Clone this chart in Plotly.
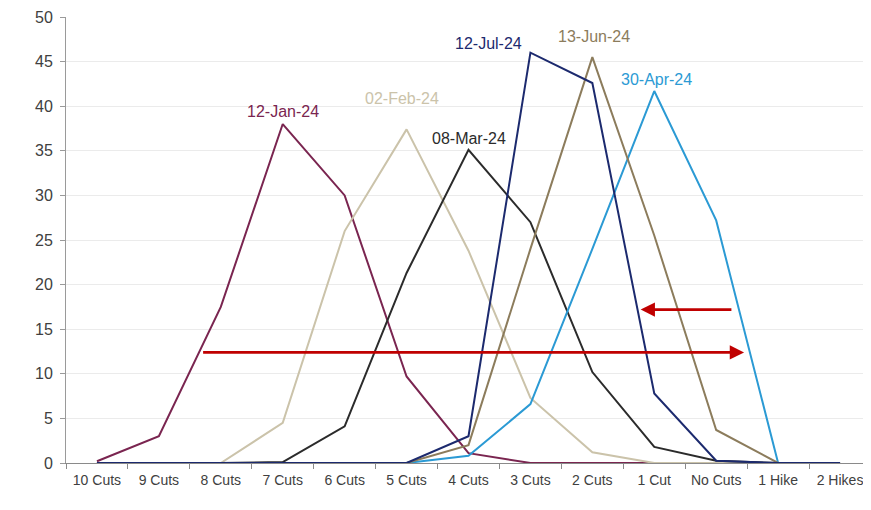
import plotly.graph_objects as go

categories = ["10 Cuts", "9 Cuts", "8 Cuts", "7 Cuts", "6 Cuts", "5 Cuts", "4 Cuts",
              "3 Cuts", "2 Cuts", "1 Cut", "No Cuts", "1 Hike", "2 Hikes"]

jan12 = [0.2, 3.0, 17.5, 38.0, 30.0, 9.7, 1.1, 0, 0, 0, 0, 0, 0]
feb02 = [0, 0, 0, 4.5, 26.0, 37.4, 23.8, 7.3, 1.2, 0, 0, 0, 0]
mar08 = [0, 0, 0, 0.1, 4.1, 21.3, 35.1, 27.0, 10.2, 1.8, 0.25, 0, 0]
apr30 = [0, 0, 0, 0, 0, 0, 0.8, 6.6, 24.0, 41.7, 27.2, 0, 0]
jun13 = [0, 0, 0, 0, 0, 0, 2.0, 24.0, 45.5, 25.5, 3.7, 0, 0]
jul12 = [0, 0, 0, 0, 0, 0, 3.0, 46.0, 42.6, 7.8, 0.25, 0, 0]

series = [
    ("12-Jan-24", jan12, "#7A2550"),
    ("02-Feb-24", feb02, "#CBC3AA"),
    ("08-Mar-24", mar08, "#2B2B2B"),
    ("30-Apr-24", apr30, "#2B9AD4"),
    ("13-Jun-24", jun13, "#8C7C5C"),
    ("12-Jul-24", jul12, "#1C2A6E"),
]

# label positions (category index, value)
label_pos = {
    "12-Jan-24": (3.0, 39.4),
    "02-Feb-24": (4.92, 40.9),
    "08-Mar-24": (6.0, 36.4),
    "12-Jul-24": (6.32, 47.0),
    "13-Jun-24": (8.02, 47.8),
    "30-Apr-24": (9.04, 43.0),
}

fig = go.Figure()
for name, vals, color in series:
    fig.add_trace(go.Scatter(x=categories, y=vals, mode="lines", name=name,
                             line=dict(color=color, width=2)))
    lx, ly = label_pos[name]
    fig.add_annotation(x=lx, y=ly, text=name, showarrow=False,
                       font=dict(color=color, size=16, family="Liberation Sans, Arial"))

# arrows
fig.add_annotation(x=10.45, y=12.4, ax=1.69, ay=12.4, xref="x", yref="y",
                   axref="x", ayref="y", text="", showarrow=True,
                   arrowhead=2, arrowsize=1.1, arrowwidth=2.6, arrowcolor="#C00000")
fig.add_annotation(x=8.78, y=17.2, ax=10.27, ay=17.2, xref="x", yref="y",
                   axref="x", ayref="y", text="", showarrow=True,
                   arrowhead=2, arrowsize=1.1, arrowwidth=2.6, arrowcolor="#C00000")

fig.update_layout(
    width=863, height=502,
    margin=dict(l=58, r=0, t=9, b=47),
    paper_bgcolor="white", plot_bgcolor="white",
    showlegend=False,
    font=dict(family="Liberation Sans, Arial", color="#404040"),
    xaxis=dict(
        type="category", categoryorder="array", categoryarray=categories,
        range=[-0.5, 12.5], tickson="boundaries",
        showgrid=False, showline=True, linecolor="#8a8a8a", linewidth=1,
        ticks="outside", ticklen=5, tickcolor="#8a8a8a", ticklabelstandoff=4,
        tickfont=dict(size=14, color="#404040"), zeroline=False,
    ),
    yaxis=dict(
        range=[0, 50], dtick=5, showgrid=True, gridcolor="#ebebeb",
        showline=True, linecolor="#9a9a9a", linewidth=1,
        ticks="outside", ticklen=5, tickcolor="#9a9a9a", ticklabelstandoff=4,
        tickfont=dict(size=16, color="#404040"), zeroline=False,
    ),
)

fig.write_html("out.html")
